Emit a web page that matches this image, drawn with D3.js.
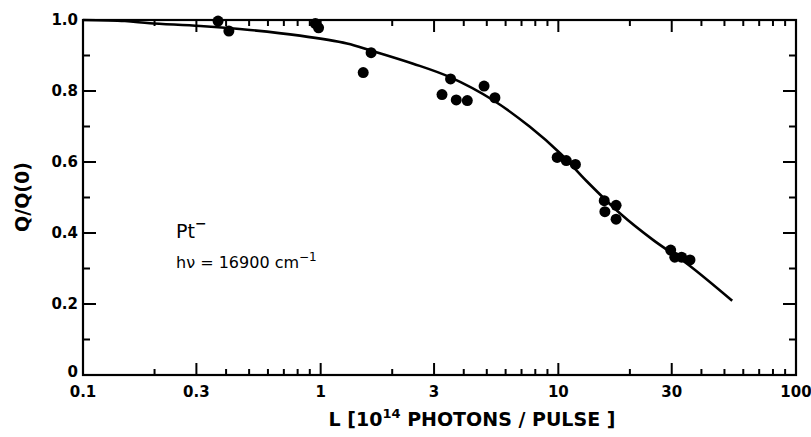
<!DOCTYPE html>
<html><head><meta charset="utf-8">
<script src="https://cdn.jsdelivr.net/npm/d3@7"></script>
<style>
body{margin:0;background:#fff;}
text{font-family:"DejaVu Sans","Liberation Sans",sans-serif;fill:#000;}
</style>
</head><body>
<svg id="c" width="811" height="437"></svg>
<script>
// Data points: L [1e14 photons/pulse], Q/Q(0)
const pointsL = [0.37, 0.411, 0.95, 0.98, 1.63, 1.51, 3.52, 3.24, 3.72, 4.14, 4.87, 5.41, 9.89, 10.8, 11.8, 15.6, 17.5, 15.7, 17.5, 29.7, 30.9, 33.0, 35.8];
const pointsQ = [0.997, 0.969, 0.99, 0.978, 0.908, 0.852, 0.834, 0.790, 0.775, 0.773, 0.814, 0.781, 0.613, 0.604, 0.593, 0.491, 0.478, 0.460, 0.439, 0.352, 0.332, 0.332, 0.324];
// Fitted curve
const curveL = [0.1, 0.15, 0.191, 0.311, 0.504, 0.818, 1.29, 1.63, 2.45, 3.5, 5.32, 7.59, 10.2, 13.2, 18.2, 25.1, 34.7, 53.9];
const curveQ = [1.0, 0.997, 0.991, 0.983, 0.972, 0.956, 0.934, 0.914, 0.877, 0.839, 0.774, 0.699, 0.624, 0.545, 0.455, 0.380, 0.314, 0.209];
// Ticks
const xMajor = [0.1, 0.3, 1, 3, 10, 30, 100];
const xMajorLabels = ["0.1", "0.3", "1", "3", "10", "30", "100"];
const xMinor = [0.2, 0.4, 0.5, 0.6, 0.7, 0.8, 0.9, 2, 4, 5, 6, 7, 8, 9, 20, 40, 50, 60, 70, 80, 90];
const yMajor = [0, 0.2, 0.4, 0.6, 0.8, 1.0];
const yMajorLabels = ["0", "0.2", "0.4", "0.6", "0.8", "1.0"];
const yMinor = [0.1, 0.3, 0.5, 0.7, 0.9];

const L = 83, R = 796, T = 20, B = 375;
const svg = d3.select("#c");
const x = d3.scaleLog().domain([0.1, 100]).range([L, R]);
const y = d3.scaleLinear().domain([0, 1]).range([B, T]);

const tickG = svg.append("g").attr("stroke","#000").attr("stroke-width",2);
function xTicks(vals, len){
  tickG.append("g").selectAll("line").data(vals).join("line")
    .attr("x1",d=>x(d)).attr("x2",d=>x(d)).attr("y1",B).attr("y2",B-len);
  tickG.append("g").selectAll("line").data(vals).join("line")
    .attr("x1",d=>x(d)).attr("x2",d=>x(d)).attr("y1",T).attr("y2",T+len);
}
function yTicks(vals, len){
  tickG.append("g").selectAll("line").data(vals).join("line")
    .attr("x1",L).attr("x2",L+len).attr("y1",d=>y(d)).attr("y2",d=>y(d));
  tickG.append("g").selectAll("line").data(vals).join("line")
    .attr("x1",R).attr("x2",R-len).attr("y1",d=>y(d)).attr("y2",d=>y(d));
}
xTicks(xMajor, 12); xTicks(xMinor, 6);
yTicks(yMajor, 13); yTicks(yMinor, 7);

// tick labels
svg.append("g").selectAll("text").data(xMajor).join("text")
  .attr("x",d=>x(d)).attr("y",397).attr("text-anchor","middle")
  .style("font-size","15px").style("font-weight","bold").text((d,i)=>xMajorLabels[i]);
svg.append("g").selectAll("text").data(yMajor).join("text")
  .attr("x",78).attr("y",d=>d===0 ? y(d)-3 : y(d)).attr("dy","0.35em").attr("text-anchor","end")
  .style("font-size","15px").style("font-weight","bold").text((d,i)=>yMajorLabels[i]);

// frame
svg.append("rect").attr("x",L).attr("y",T).attr("width",R-L).attr("height",B-T)
  .attr("fill","none").attr("stroke","#000").attr("stroke-width",2.2);

// curve
const line = d3.line().x((d,i)=>x(curveL[i])).y((d,i)=>y(curveQ[i])).curve(d3.curveCatmullRom.alpha(0.5));
svg.append("path").datum(curveL).attr("d",line).attr("fill","none").attr("stroke","#000").attr("stroke-width",2.6);

// points
svg.append("g").selectAll("circle").data(pointsL).join("circle")
  .attr("cx",(d,i)=>x(d)).attr("cy",(d,i)=>y(pointsQ[i])).attr("r",5.5).attr("fill","#000");

// annotations
const pt = svg.append("text").attr("x",176).attr("y",238).style("font-size","19px");
pt.append("tspan").text("Pt");
pt.append("tspan").attr("dy",-10).style("font-size","14px").style("font-weight","bold").text("−");
const hv = svg.append("text").attr("x",176).attr("y",268).style("font-size","16px");
hv.append("tspan").text("hν = 16900 cm");
hv.append("tspan").attr("dy",-7).style("font-size","12px").text("−1");

// axis titles
svg.append("text").attr("transform","translate(29,197) rotate(-90)").attr("text-anchor","middle")
  .style("font-size","19px").style("font-weight","bold").text("Q/Q(0)");
const xt = svg.append("text").attr("x",472).attr("y",426).attr("text-anchor","middle")
  .style("font-size","19px").style("font-weight","bold");
xt.append("tspan").text("L [10");
xt.append("tspan").attr("dy",-8).style("font-size","13px").text("14");
xt.append("tspan").attr("dy",8).text(" PHOTONS / PULSE ]");
</script>
</body></html>
